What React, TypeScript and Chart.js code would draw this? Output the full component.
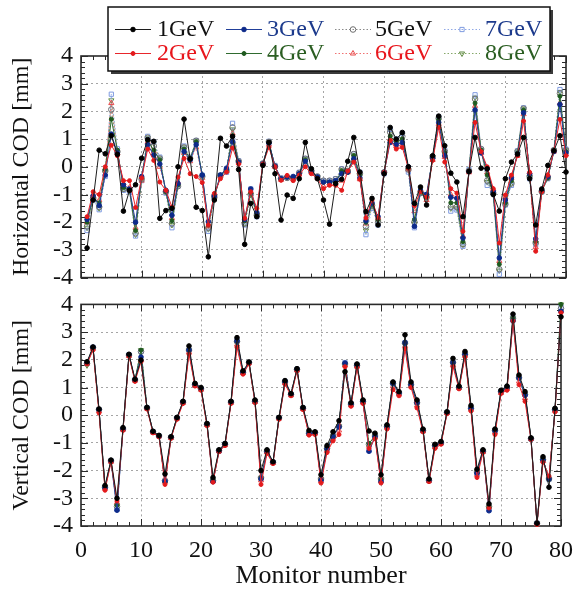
import React, { useEffect, useRef } from 'react';
import { Chart, registerables } from 'chart.js';
Chart.register(...registerables);

// ---------- data ----------
const monitors = [1, 2, 3, 4, 5, 6, 7, 8, 9, 10, 11, 12, 13, 14, 15, 16, 17, 18, 19, 20,
  21, 22, 23, 24, 25, 26, 27, 28, 29, 30, 31, 32, 33, 34, 35, 36, 37, 38, 39, 40,
  41, 42, 43, 44, 45, 46, 47, 48, 49, 50, 51, 52, 53, 54, 55, 56, 57, 58, 59, 60,
  61, 62, 63, 64, 65, 66, 67, 68, 69, 70, 71, 72, 73, 74, 75, 76, 77, 78, 79, 80];

const energies = ['1GeV', '2GeV', '3GeV', '4GeV', '5GeV', '6GeV', '7GeV', '8GeV'];

const xTicks = [0, 10, 20, 30, 40, 50, 60, 70, 80];
const yTicks = [-4, -3, -2, -1, 0, 1, 2, 3, 4];

// Horizontal COD [mm]
const horizontal1GeV = [-2.93, -1.2, 0.6, 0.47, 1.12, 0.45, -1.6, -0.85, -0.65, 0.31,
  0.98, 0.92, -1.86, -1.58, -1.5, 0.0, 1.72, 0.29, -1.46, -1.58,
  -3.25, -1.2, 1.03, 0.75, 1.1, -0.1, -2.8, -1.32, -1.8, 0.05,
  0.88, -0.25, -1.92, -1.02, -1.14, -0.43, 0.88, -0.07, -0.43, -1.2,
  -2.07, -0.6, -0.45, 0.2, 1.06, -0.19, -1.62, -1.14, -2.1, -0.25,
  1.42, 1.0, 1.24, 0.0, -1.32, -0.73, -1.38, 0.4, 1.83, 0.76,
  -0.23, -0.55, -1.8, -0.17, 1.06, -0.05, -0.07, -1.0, -1.6, -0.43,
  0.17, 0.46, 1.06, -0.43, -2.1, -0.8, 0.05, 0.58, 1.12, -0.19];
const horizontal2GeV = [-1.8, -0.9, -1.0, 0.0, 0.78, 0.4, -0.5, -0.5, -1.47, -0.4,
  0.64, 0.23, -0.55, -0.85, -1.45, -0.37, 0.3, -0.25, -0.35, -0.57,
  -2.1, -0.96, -0.43, -0.19, 0.68, 0.1, -1.86, -0.9, -1.5, 0.1,
  0.7, 0.0, -0.49, -0.31, -0.5, -0.3, 0.0, -0.25, -0.43, -0.79,
  -0.67, -0.67, -0.85, -0.15, 0.17, -0.45, -1.85, -1.2, -1.85, -0.2,
  0.95, 0.64, 0.7, -0.05, -1.4, -0.9, -1.1, 0.23, 1.42, 0.17,
  -0.79, -0.95, -2.33, -0.17, 1.6, 0.55, 0.0, -0.79, -2.75, -1.02,
  -0.3, 0.4, 1.65, -0.2, -3.05, -0.9, -0.3, 0.58, 1.71, 0.4];
const horizontal3GeV = [-1.9, -1.05, -1.4, -0.3, 1.18, 0.5, -0.65, -0.8, -2.0, -0.35,
  0.8, 0.42, 0.1, -0.85, -1.75, -0.6, 0.55, 0.25, 0.8, -0.3,
  -1.98, -1.05, -0.3, -0.05, 0.9, 0.17, -1.9, -0.8, -1.65, 0.1,
  0.85, 0.02, -0.43, -0.37, -0.35, -0.25, 0.2, -0.19, -0.37, -0.55,
  -0.55, -0.5, -0.25, -0.19, 0.29, -0.4, -1.95, -1.3, -1.8, -0.2,
  0.88, 0.8, 0.88, 0.0, -2.15, -0.85, -1.0, 0.3, 1.6, 0.4,
  -1.1, -1.14, -2.57, -0.17, 2.05, 0.5, -0.07, -0.9, -3.29, -1.2,
  -0.4, 0.45, 1.95, -0.25, -2.6, -0.85, -0.35, 0.55, 2.25, 0.5];
const horizontal4GeV = [-2.0, -1.1, -1.3, -0.1, 1.72, 0.6, -0.75, -0.85, -2.3, -0.4,
  0.95, 0.6, 0.25, -0.9, -1.95, -0.65, 0.64, 0.3, 0.9, -0.3,
  -2.1, -1.08, -0.3, -0.1, 1.12, 0.17, -1.95, -0.95, -1.7, 0.1,
  0.88, 0.0, -0.45, -0.37, -0.4, -0.25, 0.25, -0.19, -0.37, -0.55,
  -0.55, -0.55, -0.15, -0.2, 0.4, -0.3, -2.0, -1.35, -1.9, -0.2,
  1.1, 0.9, 1.0, -0.05, -1.9, -0.9, -1.05, 0.3, 1.7, 0.5,
  -1.3, -1.3, -2.7, -0.15, 2.3, 0.6, -0.3, -1.0, -3.52, -1.3,
  -0.5, 0.5, 2.05, -0.3, -2.7, -0.88, -0.4, 0.58, 2.55, 0.55];
const horizontal5GeV = [-2.15, -1.15, -1.45, -0.15, 2.07, 0.55, -0.8, -0.85, -2.4, -0.45,
  1.05, 0.75, 0.3, -0.9, -2.05, -0.7, 0.7, 0.3, 0.94, -0.35,
  -2.2, -1.1, -0.32, -0.15, 1.42, 0.2, -2.05, -1.0, -1.75, 0.12,
  0.9, 0.02, -0.43, -0.4, -0.4, -0.22, 0.29, -0.15, -0.35, -0.5,
  -0.5, -0.45, -0.1, -0.15, 0.46, -0.25, -2.15, -1.4, -2.0, -0.2,
  1.25, 0.95, 1.1, -0.1, -2.0, -0.95, -1.1, 0.35, 1.75, 0.55,
  -1.45, -1.45, -2.8, -0.15, 2.45, 0.64, -0.5, -0.95, -3.7, -1.35,
  -0.6, 0.55, 2.1, -0.35, -2.75, -0.9, -0.4, 0.6, 2.65, 0.6];
const horizontal6GeV = [-2.0, -1.0, -1.2, -0.05, 2.3, 0.5, -0.6, -0.75, -2.2, -0.5,
  0.9, 0.55, 0.0, -0.85, -1.85, -0.55, 0.5, 0.2, 0.7, -0.4,
  -2.15, -1.0, -0.35, -0.15, 1.2, 0.15, -1.95, -0.9, -1.65, 0.1,
  0.8, 0.0, -0.47, -0.35, -0.45, -0.28, 0.1, -0.2, -0.4, -0.7,
  -0.6, -0.6, -0.5, -0.2, 0.3, -0.45, -2.05, -1.3, -1.85, -0.2,
  1.0, 0.75, 0.8, -0.1, -1.6, -0.85, -1.2, 0.25, 1.55, 0.35,
  -1.0, -1.1, -2.5, -0.2, 2.2, 0.5, -0.2, -0.8, -3.4, -1.1,
  -0.4, 0.4, 1.9, -0.2, -2.9, -0.85, -0.3, 0.55, 2.3, 0.45];
const horizontal7GeV = [-2.3, -1.2, -1.55, -0.35, 2.62, 0.65, -0.85, -0.9, -2.5, -0.5,
  1.1, 0.9, 0.35, -0.95, -2.2, -0.7, 0.75, 0.35, 0.95, -0.3,
  -2.33, -1.12, -0.3, -0.2, 1.57, 0.22, -2.1, -0.8, -1.8, 0.12,
  0.92, 0.05, -0.4, -0.4, -0.4, -0.2, 0.3, -0.15, -0.35, -0.5,
  -0.5, -0.43, -0.07, -0.15, 0.46, -0.2, -2.45, -1.5, -2.1, -0.25,
  1.35, 1.0, 1.2, -0.19, -2.2, -0.96, -1.0, 0.35, 1.8, 0.6,
  -1.6, -1.56, -2.87, -0.1, 2.6, 0.64, -0.67, -0.95, -3.88, -1.38,
  -0.67, 0.58, 2.13, -0.43, -2.81, -0.9, -0.43, 0.6, 2.79, 0.64];
const horizontal8GeV = [-2.2, -1.15, -1.5, -0.2, 2.4, 0.6, -0.8, -0.85, -2.45, -0.45,
  1.05, 0.85, 0.3, -0.9, -2.1, -0.7, 0.7, 0.3, 0.94, -0.35,
  -2.25, -1.1, -0.3, -0.15, 1.35, 0.18, -2.05, -1.0, -1.75, 0.1,
  0.9, 0.0, -0.43, -0.38, -0.42, -0.25, 0.29, -0.18, -0.37, -0.55,
  -0.55, -0.5, -0.12, -0.18, 0.42, -0.3, -2.3, -1.4, -2.0, -0.2,
  1.3, 0.95, 1.15, -0.1, -2.05, -0.95, -1.05, 0.35, 1.78, 0.55,
  -1.5, -1.5, -2.8, -0.15, 2.5, 0.6, -0.55, -1.0, -3.75, -1.35,
  -0.6, 0.55, 2.1, -0.35, -2.75, -0.9, -0.4, 0.6, 2.7, 0.6];

// Vertical COD [mm]
const vertical1GeV = [1.93, 2.46, 0.22, -2.54, -1.62, -3.0, -0.45, 2.2, 1.3, 1.99,
  0.28, -0.58, -0.73, -2.12, -0.78, -0.08, 0.5, 2.5, 1.15, 1.0,
  -0.3, -2.25, -1.25, -1.02, 0.5, 2.8, 1.6, 1.92, 0.55, -2.0,
  -1.25, -1.68, -0.08, 1.25, 0.78, 1.68, 0.28, -0.55, -0.6, -2.15,
  -1.1, -0.6, -0.2, 1.57, 0.45, 1.85, 0.55, -0.57, -0.65, -2.15,
  -0.35, 1.2, 0.85, 2.9, 1.2, 0.55, -0.5, -2.3, -1.05, -0.95,
  0.12, 2.05, 1.05, 2.3, 0.35, -1.95, -1.25, -3.2, -0.5, 0.9,
  1.05, 3.65, 1.45, 0.85, -0.82, -3.9, -1.5, -2.6, 0.25, 3.55];
const vertical2GeV = [1.85, 2.35, 0.08, -2.71, -1.7, -3.1, -0.55, 2.12, 1.22, 1.93,
  0.22, -0.64, -0.78, -2.5, -0.84, -0.15, 0.42, 2.2, 1.05, 0.9,
  -0.38, -2.42, -1.32, -1.1, 0.42, 2.45, 1.48, 1.85, 0.45, -2.5,
  -1.38, -1.75, -0.15, 1.12, 0.7, 1.6, 0.2, -0.72, -0.7, -2.45,
  -1.35, -0.93, -0.7, 1.75, 0.32, 1.72, 0.42, -1.2, -0.85, -2.45,
  -0.5, 0.92, 0.7, 2.4, 1.0, 0.26, -0.6, -2.4, -1.2, -1.05,
  0.05, 1.75, 0.95, 2.1, 0.15, -2.25, -1.35, -3.35, -0.7, 0.78,
  0.9, 3.4, 1.1, 0.5, -0.88, -3.95, -1.7, -2.2, 0.12, 3.7];
const vertical3GeV = [1.88, 2.45, 0.2, -2.62, -1.66, -3.43, -0.5, 2.18, 1.27, 2.1,
  0.26, -0.6, -0.76, -2.38, -0.8, -0.1, 0.47, 2.35, 1.1, 0.96,
  -0.33, -2.4, -1.3, -1.05, 0.47, 2.68, 1.55, 1.9, 0.5, -2.3,
  -1.32, -1.7, -0.1, 1.2, 0.76, 1.65, 0.25, -0.66, -0.64, -2.35,
  -1.22, -0.78, -0.42, 1.88, 0.4, 1.8, 0.5, -1.3, -0.78, -2.4,
  -0.42, 1.15, 0.8, 2.62, 1.1, 0.45, -0.56, -2.36, -1.1, -1.0,
  0.1, 1.9, 1.0, 2.2, 0.25, -2.1, -1.3, -3.45, -0.56, 0.85,
  1.0, 3.4, 1.35, 0.72, -0.86, -3.9, -1.62, -2.3, 0.2, 3.75];
const vertical4GeV = [1.86, 2.43, 0.2, -2.6, -1.65, -3.25, -0.5, 2.17, 1.27, 2.35,
  0.26, -0.6, -0.75, -2.42, -0.8, -0.1, 0.47, 2.36, 1.1, 0.95,
  -0.33, -2.36, -1.28, -1.05, 0.47, 2.66, 1.55, 1.9, 0.5, -2.27,
  -1.3, -1.7, -0.1, 1.2, 0.75, 1.65, 0.25, -0.65, -0.63, -2.32,
  -1.2, -0.75, -0.4, 1.86, 0.4, 1.8, 0.5, -1.02, -0.75, -2.32,
  -0.4, 1.15, 0.8, 2.6, 1.1, 0.45, -0.55, -2.35, -1.1, -1.0,
  0.1, 1.9, 1.0, 2.2, 0.25, -2.07, -1.3, -3.32, -0.55, 0.85,
  1.0, 3.5, 1.35, 0.75, -0.85, -3.9, -1.6, -2.32, 0.2, 4.0];
const vertical5GeV = [1.87, 2.44, 0.21, -2.6, -1.65, -3.3, -0.5, 2.17, 1.27, 2.3,
  0.26, -0.6, -0.75, -2.36, -0.8, -0.1, 0.47, 2.35, 1.1, 0.95,
  -0.33, -2.36, -1.28, -1.05, 0.47, 2.66, 1.55, 1.9, 0.5, -2.26,
  -1.3, -1.7, -0.1, 1.2, 0.75, 1.65, 0.25, -0.65, -0.63, -2.3,
  -1.2, -0.75, -0.4, 1.85, 0.4, 1.8, 0.5, -1.05, -0.75, -2.3,
  -0.4, 1.15, 0.8, 2.6, 1.1, 0.45, -0.55, -2.35, -1.1, -1.0,
  0.1, 1.9, 1.0, 2.2, 0.25, -2.05, -1.3, -3.3, -0.55, 0.85,
  1.0, 3.5, 1.35, 0.75, -0.85, -3.9, -1.6, -2.3, 0.2, 3.85];
const vertical6GeV = [1.86, 2.4, 0.15, -2.65, -1.68, -3.15, -0.52, 2.14, 1.25, 2.0,
  0.24, -0.62, -0.76, -2.4, -0.82, -0.12, 0.45, 2.28, 1.08, 0.92,
  -0.35, -2.38, -1.3, -1.08, 0.45, 2.55, 1.52, 1.88, 0.48, -2.35,
  -1.33, -1.72, -0.12, 1.16, 0.72, 1.62, 0.22, -0.68, -0.66, -2.38,
  -1.28, -0.85, -0.55, 1.8, 0.36, 1.76, 0.46, -1.1, -0.8, -2.38,
  -0.45, 1.05, 0.75, 2.5, 1.05, 0.35, -0.58, -2.38, -1.15, -1.02,
  0.08, 1.82, 0.98, 2.15, 0.2, -2.15, -1.32, -3.32, -0.62, 0.8,
  0.95, 3.45, 1.22, 0.62, -0.86, -3.92, -1.65, -2.25, 0.16, 3.75];
const vertical7GeV = [1.88, 2.45, 0.2, -2.6, -1.64, -3.4, -0.5, 2.18, 1.28, 2.3,
  0.27, -0.6, -0.75, -2.38, -0.8, -0.1, 0.48, 2.36, 1.1, 0.95,
  -0.32, -2.37, -1.28, -1.04, 0.48, 2.7, 1.56, 1.9, 0.5, -2.28,
  -1.3, -1.7, -0.1, 1.22, 0.76, 1.66, 0.26, -0.65, -0.63, -2.33,
  -1.2, -0.76, -0.42, 1.9, 0.41, 1.82, 0.5, -1.28, -0.76, -2.35,
  -0.4, 1.16, 0.8, 2.62, 1.1, 0.46, -0.55, -2.35, -1.1, -1.0,
  0.1, 1.92, 1.0, 2.22, 0.26, -2.08, -1.3, -3.42, -0.55, 0.86,
  1.0, 3.52, 1.35, 0.75, -0.85, -3.9, -1.6, -2.32, 0.2, 3.9];
const vertical8GeV = [1.8, 2.43, 0.2, -2.6, -1.65, -3.28, -0.5, 2.17, 1.27, 2.35,
  0.26, -0.6, -0.75, -2.4, -0.8, -0.1, 0.47, 2.35, 1.1, 0.95,
  -0.33, -2.36, -1.28, -1.05, 0.47, 2.66, 1.55, 1.9, 0.5, -2.27,
  -1.3, -1.7, -0.1, 1.2, 0.75, 1.65, 0.25, -0.65, -0.63, -2.31,
  -1.2, -0.75, -0.4, 1.86, 0.4, 1.8, 0.5, -1.04, -0.75, -2.31,
  -0.4, 1.15, 0.8, 2.6, 1.1, 0.45, -0.55, -2.35, -1.1, -1.0,
  0.1, 1.9, 1.0, 2.2, 0.25, -2.06, -1.3, -3.31, -0.55, 0.85,
  1.0, 3.5, 1.35, 0.75, -0.85, -3.9, -1.6, -2.31, 0.2, 4.0];

const horizontalSeries = [horizontal1GeV, horizontal2GeV, horizontal3GeV, horizontal4GeV,
  horizontal5GeV, horizontal6GeV, horizontal7GeV, horizontal8GeV];
const verticalSeries = [vertical1GeV, vertical2GeV, vertical3GeV, vertical4GeV,
  vertical5GeV, vertical6GeV, vertical7GeV, vertical8GeV];

// ---------- styles ----------
const FONT = '"Liberation Serif", "Times New Roman", serif';
const NONE = 'rgba(0,0,0,0)';
const STYLES = [
  { line: '#1c1c1c', point: '#000000', fill: '#000000', dash: [] as number[], shape: 'circle', radius: 2.3, rot: 0, text: '#111111' },
  { line: '#e8262b', point: '#e31a1c', fill: '#e31a1c', dash: [] as number[], shape: 'circle', radius: 2, rot: 0, text: '#e8161c' },
  { line: '#213f9a', point: '#0d2a8a', fill: '#0d2a8a', dash: [] as number[], shape: 'circle', radius: 2.3, rot: 0, text: '#1c3a8c' },
  { line: '#2f6b2f', point: '#1f5a1f', fill: '#1f5a1f', dash: [] as number[], shape: 'circle', radius: 2, rot: 0, text: '#2b5e22' },
  { line: '#8a8a8a', point: '#707070', fill: NONE, dash: [1.5, 2], shape: 'circle', radius: 2.8, rot: 0, text: '#111111' },
  { line: '#f07070', point: '#e84a4a', fill: NONE, dash: [1.5, 2], shape: 'triangle', radius: 3, rot: 0, text: '#e8161c' },
  { line: '#90a8e6', point: '#7f9be0', fill: NONE, dash: [1.5, 2], shape: 'rect', radius: 3, rot: 0, text: '#1c3a8c' },
  { line: '#86a86a', point: '#5f8a40', fill: NONE, dash: [1.5, 2], shape: 'triangle', radius: 3, rot: 180, text: '#2b5e22' },
];

function buildDatasets(series: number[][]) {
  return energies.map((label, i) => {
    const s = STYLES[i];
    return {
      label,
      data: monitors.map((m, j) => ({ x: m, y: series[i][j] })),
      borderColor: s.line,
      borderWidth: 1,
      borderDash: s.dash,
      pointStyle: s.shape,
      pointRotation: s.rot,
      pointRadius: s.radius,
      pointBackgroundColor: s.fill,
      pointBorderColor: s.point,
      pointBorderWidth: 1,
      tension: 0,
      clip: false,
    };
  });
}

// frame with inward ticks on all four sides
const framePlugin = {
  id: 'codFrame',
  beforeDatasetsDraw(chart: any) {
    const { ctx, chartArea: a, scales } = chart;
    const x = scales.x, y = scales.y;
    ctx.save();
    ctx.strokeStyle = '#2a2a2a';
    ctx.lineWidth = 1;
    ctx.beginPath();
    for (let v = 0; v <= 80; v += 2) {
      const px = Math.round(x.getPixelForValue(v)) + 0.5;
      const len = v % 10 === 0 ? 7 : 4;
      ctx.moveTo(px, a.bottom); ctx.lineTo(px, a.bottom - len);
      ctx.moveTo(px, a.top); ctx.lineTo(px, a.top + len);
    }
    for (let k = -20; k <= 20; k++) {
      const py = Math.round(y.getPixelForValue(k / 5)) + 0.5;
      const len = k % 5 === 0 ? 7 : 4;
      ctx.moveTo(a.left, py); ctx.lineTo(a.left + len, py);
      ctx.moveTo(a.right, py); ctx.lineTo(a.right - len, py);
    }
    ctx.stroke();
    ctx.lineWidth = 1.6;
    ctx.strokeRect(a.left, a.top, a.right - a.left, a.bottom - a.top);
    ctx.restore();
  },
};

function drawMarker(ctx: CanvasRenderingContext2D, s: any, cx: number, cy: number) {
  const r = s.radius;
  ctx.save();
  ctx.translate(cx, cy);
  ctx.rotate((s.rot * Math.PI) / 180);
  ctx.beginPath();
  if (s.shape === 'circle') {
    ctx.arc(0, 0, r, 0, Math.PI * 2);
  } else if (s.shape === 'rect') {
    const h = r * Math.SQRT1_2;
    ctx.rect(-h, -h, 2 * h, 2 * h);
  } else {
    ctx.moveTo(0, -r);
    ctx.lineTo(r * 0.866, r * 0.5);
    ctx.lineTo(-r * 0.866, r * 0.5);
    ctx.closePath();
  }
  ctx.fillStyle = s.fill;
  ctx.fill();
  ctx.strokeStyle = s.point;
  ctx.lineWidth = 1;
  ctx.stroke();
  ctx.restore();
}

// legend box (overlapping the top panel)
const LEGEND_BOX = { x: 108, y: 7, w: 442, h: 64 };
const LEGEND_ROWS = [[0, 2, 4, 6], [1, 3, 5, 7]];
const LEGEND_ROW_Y = [29, 53];
const LEGEND_LINE_X = [115, 226, 335, 444];
const LEGEND_TEXT_X = [157, 267, 375, 485];
const LEGEND_LINE_LEN = 36;

const legendPlugin = {
  id: 'codLegend',
  afterDraw(chart: any) {
    const ctx: CanvasRenderingContext2D = chart.ctx;
    const b = LEGEND_BOX;
    ctx.save();
    ctx.fillStyle = '#3a3a3a';
    ctx.fillRect(b.x + 3, b.y + 3, b.w, b.h);
    ctx.fillStyle = '#ffffff';
    ctx.fillRect(b.x, b.y, b.w, b.h);
    ctx.strokeStyle = '#111111';
    ctx.lineWidth = 1.5;
    ctx.strokeRect(b.x, b.y, b.w, b.h);
    ctx.font = `24px ${FONT}`;
    ctx.textBaseline = 'middle';
    ctx.textAlign = 'left';
    LEGEND_ROWS.forEach((row, r) => {
      row.forEach((idx, c) => {
        const s = STYLES[idx];
        const y = LEGEND_ROW_Y[r];
        const x0 = LEGEND_LINE_X[c];
        ctx.save();
        ctx.strokeStyle = s.line;
        ctx.lineWidth = 1;
        ctx.setLineDash(s.dash);
        ctx.beginPath();
        ctx.moveTo(x0, y + 0.5);
        ctx.lineTo(x0 + LEGEND_LINE_LEN, y + 0.5);
        ctx.stroke();
        ctx.restore();
        drawMarker(ctx, s, x0 + LEGEND_LINE_LEN / 2, y + 0.5);
        ctx.fillStyle = s.text;
        ctx.fillText(energies[idx], LEGEND_TEXT_X[c], y + 1);
      });
    });
    ctx.restore();
  },
};

function buildOptions(title: string, showX: boolean, padTop: number, xHeight: number) {
  const gridColor = (ctx: any) => {
    const v = ctx.tick && ctx.tick.value;
    return (v === ctx.scale.min || v === ctx.scale.max) ? NONE : '#a5a5a5';
  };
  return {
    responsive: false,
    animation: false,
    layout: { padding: { left: 0, right: 17, top: padTop, bottom: 0 } },
    plugins: { legend: { display: false }, tooltip: { enabled: false } },
    scales: {
      x: {
        type: 'linear',
        min: xTicks[0],
        max: xTicks[xTicks.length - 1],
        afterBuildTicks: (s: any) => { s.ticks = xTicks.map((v) => ({ value: v })); },
        ticks: { display: showX, autoSkip: false, font: { family: FONT, size: 24 }, color: '#111', padding: 10, maxRotation: 0 },
        grid: { color: gridColor, drawTicks: false, lineWidth: 1 },
        border: { display: false, dash: [2, 3] },
        title: { display: showX, text: 'Monitor number', color: '#111', font: { family: FONT, size: 26 }, padding: { top: 0, bottom: 3 } },
        afterFit: (s: any) => { s.height = xHeight; },
      },
      y: {
        type: 'linear',
        min: yTicks[0],
        max: yTicks[yTicks.length - 1],
        afterBuildTicks: (s: any) => { s.ticks = yTicks.map((v) => ({ value: v })); },
        ticks: { autoSkip: false, font: { family: FONT, size: 24 }, color: '#111', padding: 8 },
        grid: { color: gridColor, drawTicks: false, lineWidth: 1 },
        border: { display: false, dash: [2, 3] },
        title: { display: true, text: title, color: '#111', font: { family: FONT, size: 24 }, padding: { top: 7, bottom: 0 } },
        afterFit: (s: any) => { s.width = 81; },
      },
    },
  };
}

export default function App() {
  const topRef = useRef<HTMLCanvasElement>(null);
  const botRef = useRef<HTMLCanvasElement>(null);

  useEffect(() => {
    const top = new Chart(topRef.current as HTMLCanvasElement, {
      type: 'line',
      data: { datasets: buildDatasets(horizontalSeries) as any },
      options: buildOptions('Horizontal COD [mm]', false, 56, 20) as any,
      plugins: [framePlugin, legendPlugin],
    });
    const bottom = new Chart(botRef.current as HTMLCanvasElement, {
      type: 'line',
      data: { datasets: buildDatasets(verticalSeries) as any },
      options: buildOptions('Vertical COD [mm]', true, 20, 69) as any,
      plugins: [framePlugin],
    });
    return () => { top.destroy(); bottom.destroy(); };
  }, []);

  return (
    <div style={{ position: 'fixed', left: 0, top: 0, width: 583, height: 595, background: '#ffffff' }}>
      <canvas ref={botRef} width={583} height={313} style={{ position: 'absolute', left: 0, top: 282, width: 583, height: 313 }} />
      <canvas ref={topRef} width={583} height={300} style={{ position: 'absolute', left: 0, top: 0, width: 583, height: 300 }} />
    </div>
  );
}
